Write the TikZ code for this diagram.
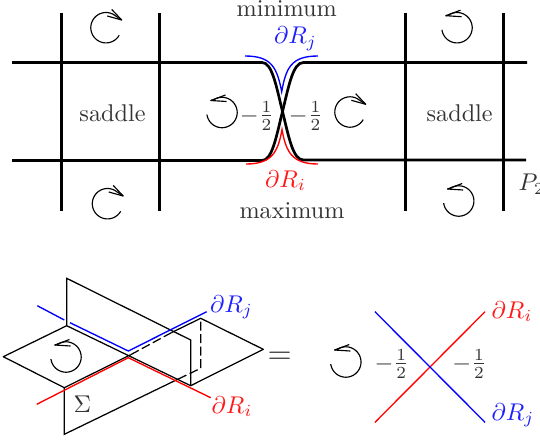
\documentclass[tikz,border=0pt]{standalone}
\definecolor{txt}{gray}{0.2}
\definecolor{bluetxt}{rgb}{0.12,0.12,1}
\definecolor{redtxt}{rgb}{1,0.1,0.1}
\tikzset{
  heavy/.style={line width=2.7pt,black},
  thin edge/.style={line width=1.25pt,black},
  hidden edge/.style={thin edge,dash pattern=on 9pt off 3.5pt},
  curveblue/.style={blue,line width=1.35pt},
  curvered/.style={red,line width=1.35pt},
  lbl/.style={anchor=base,scale=2.42,text=txt,inner sep=0pt,outer sep=0pt},
  rotcw/.pic={
    \draw[line width=1.15pt,line join=round] plot[domain=30:298,samples=50] ({15.2*cos(\x)},{15.2*sin(\x)}) -- (15.7,-7.7);
    \draw[line width=1.15pt,line join=round] (5.7,-18.3) -- (15.7,-7.7) -- (1.3,-11.7);
  },
  rotccw/.pic={
    \draw[line width=1.15pt,line join=round] plot[domain=172:-125,samples=50] ({15.2*cos(\x)},{15.2*sin(\x)}) -- (-11.2,-12);
    \draw[line width=1.15pt,line join=round] (3.5,-17.5) -- (-11.2,-12) -- (4.5,-11);
  }
}
\begin{document}
\begin{tikzpicture}[x=1pt,y=-1pt]
\useasboundingbox (0,0) rectangle (540,442);
\clip (0,0) rectangle (540,442);
% top grid
\coordinate (tl) at (12,62.5); \coordinate (tla) at (262,62.5);
\coordinate (tra) at (303.5,62.5); \coordinate (tr) at (527,62.5);
\coordinate (bl) at (12,160.5); \coordinate (bla) at (262,160.5);
\coordinate (bra) at (303.5,160); \coordinate (br) at (526,160);
\coordinate (mid) at (282.5,111.5);
\draw[heavy] (61.7,13) -- (61.7,211);
\draw[heavy] (159.3,13) -- (159.3,211);
\draw[heavy] (405.3,13) -- (405.3,211);
\draw[heavy] (503.3,13) -- (503.3,211);
\draw[heavy] (tl) -- (tla) .. controls (272,62.5) and (276,85) .. (mid) .. controls (289,138) and (293,160) .. (bra) -- (br);
\draw[heavy] (tr) -- (tra) .. controls (293,62.5) and (289,85) .. (mid) .. controls (276,138) and (272,160.5) .. (bla) -- (bl);
\draw[curveblue] (245,56) .. controls (272,56) and (277,68) .. (281.7,91.7) .. controls (286,68) and (291,56) .. (318,56);
\draw[curvered] (246,164) .. controls (272,164) and (278,152) .. (282,129.5) .. controls (286,152) and (292,164) .. (318,164);
\pic at (106,27.7) {rotcw};
\pic at (107.5,203.7) {rotcw};
\pic at (350,112) {rotcw};
\pic at (222,112.5) {rotccw};
\pic at (457,27.7) {rotccw};
\pic at (458.7,201) {rotccw};
\pic at (66,357) {rotccw};
\pic at (345.8,362) {rotccw};
\node[lbl] (minl) at (286.7,16.7) {minimum};
\node[lbl] (maxl) at (292,218.5) {maximum};
\node[lbl] (sadl) at (112.5,121.7) {saddle};
\node[lbl] (sadr) at (459.7,121.7) {saddle};
\node[lbl,anchor=base west] (ptwo) at (518.5,190.7) {$P_2$};
\node[lbl,text=bluetxt] (rjt) at (295.5,43.5) {$\partial R_j$};
\node[lbl,text=redtxt] (rib) at (285.5,187) {$\partial R_i$};
\node[lbl] (fa) at (257,122) {$-\frac12$};
\node[lbl] (fb) at (306,122) {$-\frac12$};
% lower plane
\draw[thin edge,line join=round] (130.7,354.7) -- (64.3,387.7) -- (3.3,356.7) -- (66.7,325.7) -- (190.7,385.7) -- (263.3,349.3) -- (200.7,318.3) -- (171.7,332.5);
\draw[hidden edge] (171.7,332.5) -- (130.7,354.7);
\draw[thin edge] (66.7,325.7) -- (66.7,278.3) -- (190.7,340) -- (190.7,385.7);
\draw[thin edge] (64.3,387.7) -- (64.3,434.3) -- (178.3,379);
\draw[hidden edge] (178.3,379) -- (200.7,368.3) -- (200.7,318.3);
\draw[curveblue] (37.3,305.7) -- (64.3,320);
\draw[curveblue] (70,322.7) -- (128.3,351) -- (206.7,311.7);
\draw[curvered] (36.7,404.3) -- (128.3,357.7) -- (210.7,397.7);
\node[lbl,text=bluetxt] (rj2) at (231.5,312.3) {$\partial R_j$};
\node[lbl,text=redtxt] (ri2) at (232,413.3) {$\partial R_i$};
\node[lbl] (sig) at (82.3,412.3) {$\Sigma$};
\node[scale=3.1,text=txt,inner sep=0pt] (eq) at (279.7,358.3) {$=$};
% right cross
\draw[curvered] (375,422.3) -- (485,311.7);
\draw[curveblue] (375,311.7) -- (485,422.3);
\node[lbl] (fc) at (391.7,370) {$-\frac12$};
\node[lbl] (fd) at (469.5,370) {$-\frac12$};
\node[lbl,text=redtxt] (ri3) at (512,318.3) {$\partial R_i$};
\node[lbl,text=bluetxt] (rj3) at (513,420) {$\partial R_j$};
\end{tikzpicture}
\end{document}
